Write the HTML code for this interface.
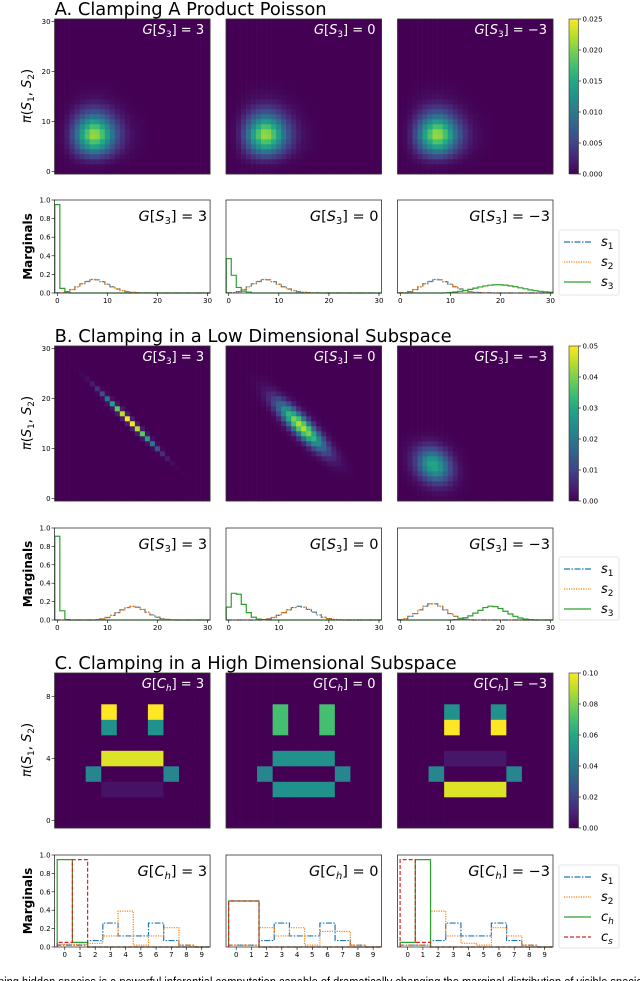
<!DOCTYPE html>
<html><head><meta charset="utf-8">
<style>
html,body{margin:0;padding:0;background:#fff;width:640px;height:981px;overflow:hidden}
svg{display:block;font-family:"DejaVu Sans","Liberation Sans",sans-serif}
</style></head>
<body>
<svg id="fig" width="640" height="981" viewBox="0 0 640 981" xmlns="http://www.w3.org/2000/svg">
<defs>
<linearGradient id="viridis" x1="0" y1="1" x2="0" y2="0">
<stop offset="0" stop-color="#440154"/><stop offset="0.1" stop-color="#482475"/><stop offset="0.2" stop-color="#414487"/><stop offset="0.3" stop-color="#355f8d"/><stop offset="0.4" stop-color="#2a788e"/><stop offset="0.5" stop-color="#21918c"/><stop offset="0.6" stop-color="#22a884"/><stop offset="0.7" stop-color="#44bf70"/><stop offset="0.8" stop-color="#7ad151"/><stop offset="0.9" stop-color="#bddf26"/><stop offset="1" stop-color="#fde725"/>
</linearGradient>
</defs>
</svg>
<script>
// ---------- DATA ----------
const panelLabelsS = ["3", "0", "\u22123"];
const aS1 = [0.001,0.004,0.015,0.037,0.066,0.099,0.124,0.145,0.142,0.122,0.095,0.067,0.043,0.026,0.014,0.007,0.004,0.002,0.001,0,0,0,0,0,0,0,0,0,0,0,0];
const aS2 = [0.001,0.004,0.015,0.037,0.066,0.099,0.124,0.145,0.142,0.122,0.095,0.067,0.043,0.026,0.014,0.007,0.004,0.002,0.001,0,0,0,0,0,0,0,0,0,0,0,0];
const aS3p1 = [0.95,0.05,0.01,0,0,0,0,0,0,0,0,0,0,0,0,0,0,0,0,0,0,0,0,0,0,0,0,0,0,0,0];
const aS3p2 = [0.37,0.19,0.06,0.02,0.01,0,0,0,0,0,0,0,0,0,0,0,0,0,0,0,0,0,0,0,0,0,0,0,0,0,0];
const aS3p3 = [0,0,0,0,0,0,0,0,0,0.002,0.006,0.011,0.018,0.027,0.039,0.052,0.065,0.076,0.084,0.089,0.089,0.085,0.077,0.067,0.056,0.045,0.034,0.025,0.018,0.013,0.008];
const bS12p1 = [0,0,0,0,0,0,0,0,0.005,0.012,0.027,0.05,0.08,0.11,0.135,0.148,0.14,0.115,0.085,0.055,0.03,0.015,0.006,0.002,0,0,0,0,0,0,0];
const bS12p2 = [0,0,0,0,0,0,0,0.005,0.012,0.027,0.05,0.08,0.11,0.135,0.148,0.14,0.115,0.085,0.055,0.03,0.015,0.006,0.002,0,0,0,0,0,0,0,0];
const bS12p3 = [0.005,0.015,0.04,0.07,0.11,0.15,0.175,0.175,0.15,0.11,0.07,0.04,0.02,0.008,0.003,0,0,0,0,0,0,0,0,0,0,0,0,0,0,0,0];
const bS3p1 = [0.91,0.1,0.005,0,0,0,0,0,0,0,0,0,0,0,0,0,0,0,0,0,0,0,0,0,0,0,0,0,0,0,0];
const bS3p2 = [0.14,0.29,0.28,0.17,0.08,0.03,0.01,0.004,0,0,0,0,0,0,0,0,0,0,0,0,0,0,0,0,0,0,0,0,0,0,0];
const bS3p3 = [0,0,0,0,0,0,0,0,0,0,0,0.005,0.012,0.025,0.045,0.075,0.105,0.135,0.15,0.145,0.125,0.095,0.065,0.04,0.022,0.01,0.004,0,0,0,0];
const bCenterX = [14.5, 14.5, 6.7];
const bCenterY = [15.5, 14.5, 6.7];
const bSdAlong = [4.6, 4.4, 2.6];
const bSdPerp = [0.32, 1.1, 2.1];
const bPeak = [0.05, 0.045, 0.03];
const cHeat1 = [
[0,0,0,0,0,0,0,0,0,0],[0,0,0,0,0,0,0,0,0,0],
[0,0,0,0.1,0,0,0.1,0,0,0],[0,0,0,0.05,0,0,0.05,0,0,0],
[0,0,0,0,0,0,0,0,0,0],[0,0,0,0.095,0.095,0.095,0.095,0,0,0],
[0,0,0.045,0,0,0,0,0.045,0,0],[0,0,0,0.005,0.005,0.005,0.005,0,0,0],
[0,0,0,0,0,0,0,0,0,0],[0,0,0,0,0,0,0,0,0,0]];
const cHeat2 = [
[0,0,0,0,0,0,0,0,0,0],[0,0,0,0,0,0,0,0,0,0],
[0,0,0,0.07,0,0,0.07,0,0,0],[0,0,0,0.07,0,0,0.07,0,0,0],
[0,0,0,0,0,0,0,0,0,0],[0,0,0,0.05,0.05,0.05,0.05,0,0,0],
[0,0,0.045,0,0,0,0,0.045,0,0],[0,0,0,0.05,0.05,0.05,0.05,0,0,0],
[0,0,0,0,0,0,0,0,0,0],[0,0,0,0,0,0,0,0,0,0]];
const cHeat3 = [
[0,0,0,0,0,0,0,0,0,0],[0,0,0,0,0,0,0,0,0,0],
[0,0,0,0.05,0,0,0.05,0,0,0],[0,0,0,0.1,0,0,0.1,0,0,0],
[0,0,0,0,0,0,0,0,0,0],[0,0,0,0.006,0.006,0.006,0.006,0,0,0],
[0,0,0.045,0,0,0,0,0.045,0,0],[0,0,0,0.095,0.095,0.095,0.095,0,0,0],
[0,0,0,0,0,0,0,0,0,0],[0,0,0,0,0,0,0,0,0,0]];
const cS1 = [0.02,0.02,0.07,0.26,0.12,0.12,0.26,0.07,0.02,0];
const cS2p1 = [0.03,0.03,0.04,0.12,0.39,0.02,0.12,0.21,0.02,0];
const cS2p2 = [0.02,0.02,0.21,0.12,0.21,0.02,0.17,0.17,0.02,0];
const cS2p3 = [0.02,0.02,0.39,0.12,0.04,0.02,0.21,0.12,0.02,0];
const cChp1 = [0.95,0.05,0,0,0,0,0,0,0,0];
const cChp2 = [0.5,0.5,0,0,0,0,0,0,0,0];
const cChp3 = [0.05,0.95,0,0,0,0,0,0,0,0];
const cCsp1 = [0.05,0.95,0,0,0,0,0,0,0,0];
const cCsp2 = [0.5,0.5,0,0,0,0,0,0,0,0];
const cCsp3 = [0.95,0.05,0,0,0,0,0,0,0,0];
const cbTicksA = ["0.000","0.005","0.010","0.015","0.020","0.025"];
const cbTicksB = ["0.00","0.01","0.02","0.03","0.04","0.05"];
const cbTicksC = ["0.00","0.02","0.04","0.06","0.08","0.10"];

const NS = "http://www.w3.org/2000/svg";
const svg = document.getElementById("fig");
function mk(tag, attrs, parent) {
  const e = document.createElementNS(NS, tag);
  for (const k in attrs) e.setAttribute(k, attrs[k]);
  (parent || svg).appendChild(e);
  return e;
}
const VIR = [[68,1,84],[72,36,117],[65,68,135],[53,95,141],[42,120,142],[33,145,140],[34,168,132],[68,191,112],[122,209,81],[189,223,38],[253,231,37]];
function viridis(t) {
  t = Math.max(0, Math.min(1, t)) * 10;
  const i = Math.min(9, Math.floor(t)), f = t - i;
  const a = VIR[i], b = VIR[i + 1];
  return "rgb(" + a.map((v, k) => Math.round(v + (b[k] - v) * f)).join(",") + ")";
}
const PX = [54.6, 226, 397.5];
const PW = 155.5;
const COLORS = {s1:"#1f77b4", s2:"#ff7f0e", s3:"#2ca02c", cs:"#d62728"};
const DASH = {s1:"6,1.5,1.5,1.5", s2:"1.2,1.2", s3:"", cs:"4,2"};

function addLabel(g, x, y, size, fill, sub, val) {
  const t = mk("text", {x:x, y:y, "text-anchor":"end", "font-size":size, fill:fill}, g);
  
  
  const a = mk("tspan", {"font-style":"italic"}, t); a.textContent = "G";
  const b = mk("tspan", {}, t); b.textContent = "[";
  const c = mk("tspan", {"font-style":"italic"}, t); c.textContent = sub[0];
  const d = mk("tspan", {"font-size":size*0.68, dy:size*0.22, "font-style":sub[2]?"italic":"normal"}, t); d.textContent = sub[1];
  const e = mk("tspan", {dy:-size*0.22}, t); e.textContent = "] = " + val;
}

function heatmap(p, top, n, cellFn, vmax, sub, ticks) {
  const g = mk("g", {});
  
  
  const x0 = PX[p], cs = PW / n, ch = 155 / n;
  for (let j = 0; j < n; j++) for (let i = 0; i < n; i++) {
    const v = cellFn(i, j);
    const r = mk("rect", {x:(x0 + i * cs).toFixed(2), y:(top + 155 - (j + 1) * ch).toFixed(2), width:(cs + 0.3).toFixed(2), height:(ch + 0.3).toFixed(2), fill:viridis(v / vmax)}, g);
    
    
  }
  mk("rect", {x:x0, y:top, width:PW, height:155, fill:"none", stroke:"#333", "stroke-width":0.8}, g);
  addLabel(g, x0 + PW - 6, top + 15, 13, "#fff", sub, panelLabelsS[p]);
  if (p === 0) {
    ticks.forEach(tv => {
      const y = top + 155 - (tv + 0.5) * ch;
      mk("line", {x1:x0 - 3, x2:x0, y1:y, y2:y, stroke:"#000", "stroke-width":0.6}, g);
      const t = mk("text", {x:x0 - 4, y:y + 2.5, "text-anchor":"end", "font-size":7}, g);
      
      
      t.textContent = tv;
    });
  }
}

function marginal(p, top, h, xmin, xmax, series, sub, xticks) {
  const g = mk("g", {});
  
  
  const x0 = PX[p];
  const sx = v => x0 + (v - xmin) / (xmax - xmin) * PW;
  const sy = v => top + h - v * h;
  series.forEach(s => {
    let d = "";
    s.vals.forEach((v, i) => {
      const xa = sx(i - 0.5), xb = sx(i + 0.5), y = sy(v);
      d += (i === 0 ? "M" + xa.toFixed(2) + "," + sy(0).toFixed(2) + "L" : "L") + xa.toFixed(2) + "," + y.toFixed(2) + "L" + xb.toFixed(2) + "," + y.toFixed(2);
    });
    d += "L" + sx(s.vals.length - 0.5).toFixed(2) + "," + sy(0).toFixed(2);
    const path = mk("path", {d:d, fill:"none", stroke:COLORS[s.k], "stroke-width":1.2, "stroke-dasharray":DASH[s.k]}, g);
    
    
  });
  mk("rect", {x:x0, y:top, width:PW, height:h, fill:"none", stroke:"#333", "stroke-width":0.8}, g);
  addLabel(g, x0 + PW - 3, top + 21, 14.5, "#000", sub, panelLabelsS[p]);
  xticks.forEach(tv => {
    const x = sx(tv);
    mk("line", {x1:x, x2:x, y1:top + h, y2:top + h + 3, stroke:"#000", "stroke-width":0.6}, g);
    const t = mk("text", {x:x, y:top + h + 10, "text-anchor":"middle", "font-size":7}, g);
    
    
    t.textContent = tv;
  });
  if (p === 0) {
    [0, 0.2, 0.4, 0.6, 0.8, 1.0].forEach(tv => {
      const y = sy(tv);
      mk("line", {x1:x0 - 3, x2:x0, y1:y, y2:y, stroke:"#000", "stroke-width":0.6}, g);
      const t = mk("text", {x:x0 - 4, y:y + 2.5, "text-anchor":"end", "font-size":7}, g);
      
      
      t.textContent = tv.toFixed(1);
    });
  }
}

function colorbar(top, labels) {
  const g = mk("g", {});
  
  
  mk("rect", {x:569, y:top, width:9.5, height:155, fill:"url(#viridis)", stroke:"#333", "stroke-width":0.6}, g);
  labels.forEach((l, i) => {
    const y = top + 155 - i * 31;
    mk("line", {x1:578.5, x2:581, y1:y, y2:y, stroke:"#000", "stroke-width":0.6}, g);
    const t = mk("text", {x:582.5, y:y + 2.5, "font-size":7}, g);
    
    
    t.textContent = l;
  });
}

function legend(top, bottom, items) {
  const g = mk("g", {});
  
  
  mk("rect", {x:559, y:top, width:60, height:bottom - top, rx:2, fill:"#fff", stroke:"#ddd", "stroke-width":0.8}, g);
  items.forEach((it, i) => {
    const y = top + 12 + i * 20;
    const e = mk("g", {}, g);
    
    
    mk("line", {x1:564, x2:591, y1:y, y2:y, stroke:COLORS[it.k], "stroke-width":1.3, "stroke-dasharray":DASH[it.k]}, e);
    const t = mk("text", {x:601, y:y + 4, "font-size":13, "font-style":"italic"}, e);
    t.textContent = it.a;
    const s = mk("tspan", {"font-size":9, dy:3, "font-style":it.si ? "italic" : "normal"}, t);
    s.textContent = it.b;
  });
}

function title(y, txt, w) {
  const t = mk("text", {x:54.6, y:y, "font-size":17.5, textLength:w, lengthAdjust:"spacingAndGlyphs"});
  
  
  t.textContent = txt;
}

function ylabels(hmTop, mTop, mH) {
  const t1 = mk("text", {x:0, y:0, "font-size":13, "text-anchor":"middle", transform:"translate(31," + (hmTop + 77) + ") rotate(-90)"});
  
  
  const a = mk("tspan", {"font-style":"italic"}, t1); a.textContent = "\u03c0";
  const b = mk("tspan", {}, t1); b.textContent = "(";
  const c = mk("tspan", {"font-style":"italic"}, t1); c.textContent = "S";
  const d = mk("tspan", {"font-size":9, dy:3}, t1); d.textContent = "1";
  const e = mk("tspan", {dy:-3}, t1); e.textContent = ", ";
  const f = mk("tspan", {"font-style":"italic"}, t1); f.textContent = "S";
  const h = mk("tspan", {"font-size":9, dy:3}, t1); h.textContent = "2";
  const k = mk("tspan", {dy:-3}, t1); k.textContent = ")";
  const t2 = mk("text", {x:0, y:0, "font-size":12, "font-weight":"bold", "text-anchor":"middle", transform:"translate(32," + (mTop + mH / 2) + ") rotate(-90)"});
  
  
  t2.textContent = "Marginals";
}

title(15, "A. Clamping A Product Poisson", 272);
ylabels(19, 200, 93);
const aS3 = [aS3p1, aS3p2, aS3p3];
for (let p = 0; p < 3; p++) {
  heatmap(p, 19, 31, (i, j) => aS1[i] * aS2[j], 0.025, ["S", "3"], [0, 10, 20, 30]);
  marginal(p, 200, 93, -0.55, 30.5, [{k:"s1", vals:aS1}, {k:"s2", vals:aS2}, {k:"s3", vals:aS3[p]}], ["S", "3"], [0, 10, 20, 30]);
}
colorbar(19, cbTicksA);
legend(230, 295, [{k:"s1", a:"s", b:"1"}, {k:"s2", a:"s", b:"2"}, {k:"s3", a:"s", b:"3"}]);

title(342, "B. Clamping in a Low Dimensional Subspace", 397);
ylabels(346, 528, 92);
const bS12 = [bS12p1, bS12p2, bS12p3];
const bS3 = [bS3p1, bS3p2, bS3p3];
for (let p = 0; p < 3; p++) {
  heatmap(p, 346, 31, (i, j) => {
    const dx = i - bCenterX[p], dy = j - bCenterY[p];
    const u = (dx - dy) / Math.SQRT2, v = (dx + dy) / Math.SQRT2;
    return bPeak[p] * Math.exp(-0.5 * (u * u / (bSdAlong[p] * bSdAlong[p]) + v * v / (bSdPerp[p] * bSdPerp[p])));
  }, 0.05, ["S", "3"], [0, 10, 20, 30]);
  marginal(p, 528, 92, -0.55, 30.5, [{k:"s1", vals:bS12[p]}, {k:"s2", vals:bS12[p]}, {k:"s3", vals:bS3[p]}], ["S", "3"], [0, 10, 20, 30]);
}
colorbar(346, cbTicksB);
legend(557, 620, [{k:"s1", a:"s", b:"1"}, {k:"s2", a:"s", b:"2"}, {k:"s3", a:"s", b:"3"}]);

title(669, "C. Clamping in a High Dimensional Subspace", 402);
ylabels(673, 855, 92);
const cHeat = [cHeat1, cHeat2, cHeat3];
const cS2 = [cS2p1, cS2p2, cS2p3];
const cCh = [cChp1, cChp2, cChp3];
const cCs = [cCsp1, cCsp2, cCsp3];
for (let p = 0; p < 3; p++) {
  heatmap(p, 673, 10, (i, j) => cHeat[p][9 - j][i], 0.1, ["C", "h", true], [0, 4, 8]);
  marginal(p, 855, 92, -0.67, 9.55, [{k:"s1", vals:cS1}, {k:"s2", vals:cS2[p]}, {k:"s3", vals:cCh[p]}, {k:"cs", vals:cCs[p]}], ["C", "h", true], [0,1,2,3,4,5,6,7,8,9]);
}
colorbar(673, cbTicksC);
legend(865, 948, [{k:"s1", a:"s", b:"1"}, {k:"s2", a:"s", b:"2"}, {k:"s3", a:"c", b:"h", si:true}, {k:"cs", a:"c", b:"s", si:true}]);

const cap = mk("text", {x:-2, y:986, "font-size":12.5, textLength:650, lengthAdjust:"spacingAndGlyphs", "font-family":"Liberation Sans, sans-serif"});


cap.textContent = "ping hidden species is a powerful inferential computation capable of dramatically changing the marginal distribution of visible species";
</script>
</body></html>
